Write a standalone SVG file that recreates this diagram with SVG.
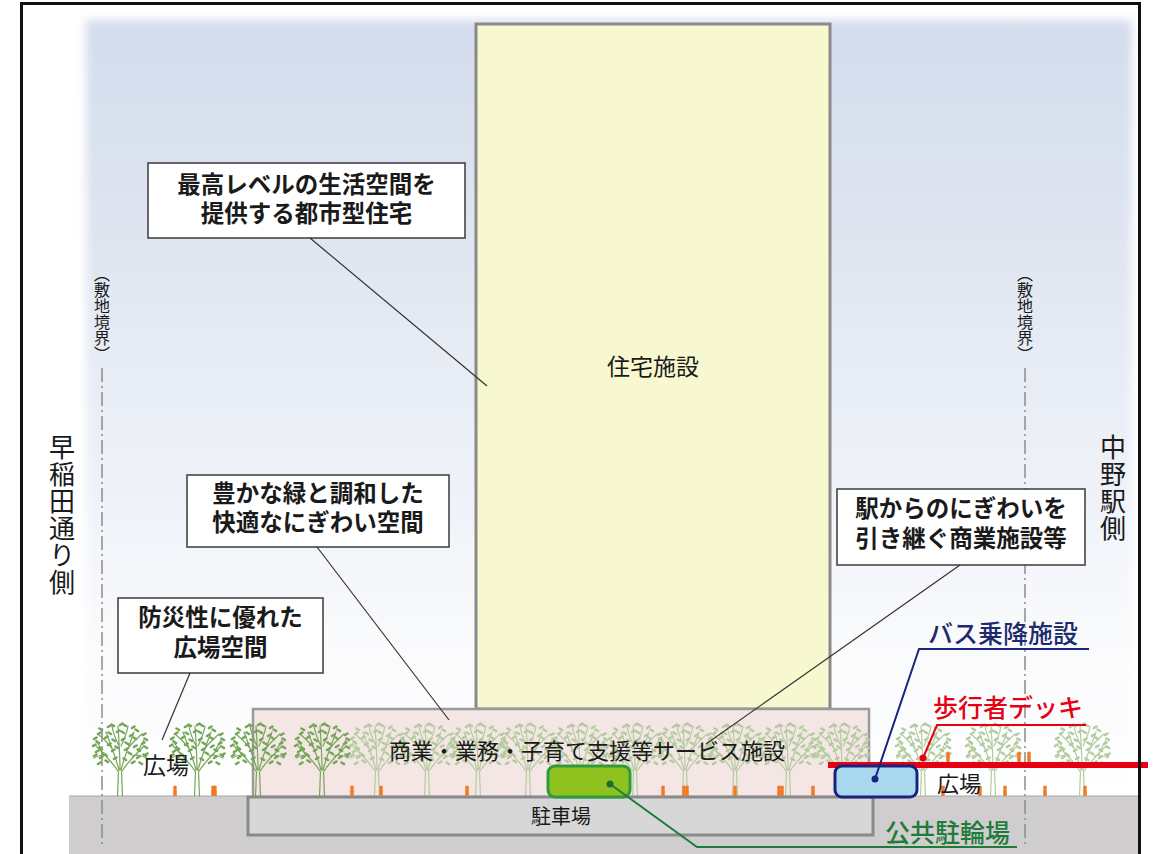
<svg xmlns="http://www.w3.org/2000/svg" xmlns:xlink="http://www.w3.org/1999/xlink" width="1156" height="854" viewBox="0 0 1156 854">
  <style>
    .jp { font-family: "Noto Sans CJK JP", "Noto Sans CJK SC", sans-serif; }
    .callout rect { fill: #ffffff; stroke: #3a3a3a; stroke-width: 1.5; }
    .callout text { font-size: 23.5px; font-weight: 700; text-anchor: middle; fill: #1a1a1a; }
    .leader { fill: none; stroke: #333333; stroke-width: 1.2; }
    .boundary { fill: none; stroke: #8c8c8c; stroke-width: 1.5; stroke-dasharray: 14 4 2 4; }
    .vlabel { writing-mode: vertical-rl; fill: #1a1a1a; }
    .tree-dark { stroke: #74a656; }
    .tree-pale { stroke: #b3cb9e; }
    .person { fill: #f07a28; }
  </style>
  <defs>
    <linearGradient id="skyGrad" x1="0" y1="0" x2="0" y2="1">
      <stop offset="0" stop-color="#d3dcec"/>
      <stop offset="0.3" stop-color="#e0e6f1"/>
      <stop offset="0.55" stop-color="#ecf0f7"/>
      <stop offset="0.78" stop-color="#f9fafc"/>
      <stop offset="1" stop-color="#ffffff"/>
    </linearGradient>
    <filter id="soft" x="-5%" y="-5%" width="110%" height="110%">
      <feGaussianBlur stdDeviation="5"/>
    </filter>
    <!-- tree: base at 0,0 -->
    <g id="tree" fill="none" stroke-linecap="round">
      <path stroke-width="1.2" d="M-2.5,0 C-2,-8 -2,-16 -1.5,-24 M2.5,0 C2,-8 2,-16 1.5,-24
        M-1.5,-24 C-6,-32 -14,-40 -24,-50 M-1,-26 C-4,-38 -9,-50 -14,-64 M0,-26 C0,-40 -1,-55 -2,-70
        M1,-26 C4,-38 9,-50 14,-64 M1.5,-24 C6,-32 14,-40 24,-50
        M-12,-40 C-18,-42 -22,-40 -26,-38 M12,-40 C18,-42 22,-40 26,-38
        M-7,-46 C-12,-54 -18,-58 -22,-62 M7,-46 C12,-54 18,-58 22,-62
        M-1,-50 C-5,-58 -7,-64 -8,-70 M1,-50 C5,-58 7,-64 8,-70
        M-18,-45 L-24,-56 M18,-45 L24,-56"/>
      <path stroke-width="2.6" d="M-26,-57 l2.5,-1.5 M-22,-62 l2.5,-1.5 M-18,-66 l-2.5,-1.5 M-12,-69 l2.5,-1.5 M-6,-70 l-2.5,-1.5 M0,-71 l2.5,-1.5 M6,-70 l-2.5,-1.5 M12,-68 l2.5,-1.5 M18,-65 l-2.5,-1.5 M23,-61 l2.5,-1.5 M27,-56 l-2.5,-1.5
        M-27,-50 l2.5,-1.5 M-21,-53 l-2.5,-1.5 M-15,-58 l2.5,-1.5 M-9,-62 l-2.5,-1.5 M-3,-64 l2.5,-1.5 M4,-63 l-2.5,-1.5 M10,-60 l2.5,-1.5 M16,-57 l-2.5,-1.5 M22,-52 l2.5,-1.5 M27,-48 l-2.5,-1.5
        M-24,-44 l2.5,-1.5 M-18,-47 l-2.5,-1.5 M-12,-51 l2.5,-1.5 M-5,-55 l-2.5,-1.5 M2,-56 l2.5,-1.5 M8,-52 l-2.5,-1.5 M14,-49 l2.5,-1.5 M20,-45 l-2.5,-1.5 M25,-41 l2.5,-1.5
        M-20,-38 l2.5,-1.5 M-14,-41 l-2.5,-1.5 M-8,-45 l2.5,-1.5 M-2,-48 l-2.5,-1.5 M5,-46 l2.5,-1.5 M11,-42 l-2.5,-1.5 M17,-38 l2.5,-1.5
        M-12,-34 l-2.5,-1.5 M-6,-37 l2.5,-1.5 M6,-36 l-2.5,-1.5 M12,-33 l2.5,-1.5 M-22,-32 l2.5,-1.5 M22,-32 l-2.5,-1.5 M-26,-40 l2.5,-1.5 M26,-40 l-2.5,-1.5"/>
    </g>
    <!-- small standing figure: base at 0,0 -->
    <g id="person">
      <circle cx="0" cy="-8.6" r="1.9"/>
      <rect x="-1.8" y="-7" width="3.6" height="7" rx="1"/>
    </g>
  </defs>

  <!-- background sky -->
  <g id="sky">
    <rect x="0" y="0" width="1156" height="854" fill="#ffffff"/>
    <rect x="86" y="20" width="1046" height="790" fill="url(#skyGrad)" filter="url(#soft)"/>
  </g>

  <!-- ground -->
  <g id="ground">
    <rect x="69" y="796" width="1072" height="60" fill="#cfcdce"/>
    <line x1="69" y1="796" x2="1141" y2="796" stroke="#a9a7a8" stroke-width="1"/>
  </g>

  <!-- site boundary lines -->
  <g id="site-boundary-left">
    <line class="boundary" x1="102" y1="368" x2="102" y2="848"/>
    <text class="jp vlabel" x="102" y="266" font-size="16" fill="#333">（敷地境界）</text>
  </g>
  <g id="site-boundary-right">
    <line class="boundary" x1="1025" y1="368" x2="1025" y2="848"/>
    <text class="jp vlabel" x="1025" y="266" font-size="16" fill="#333">（敷地境界）</text>
  </g>

  <!-- side labels -->
  <g id="side-west">
    <text class="jp vlabel" x="62" y="434" font-size="26" letter-spacing="1">早稲田通り側</text>
  </g>
  <g id="side-east">
    <text class="jp vlabel" x="1113" y="434" font-size="26" letter-spacing="1">中野駅側</text>
  </g>

  <!-- residential tower -->
  <g id="tower">
    <rect x="476" y="24" width="354" height="685" fill="#f7f8d0" stroke="#8a8a8a" stroke-width="3"/>
    <text class="jp" x="653" y="375" font-size="23" text-anchor="middle" fill="#1a1a1a">住宅施設</text>
  </g>

  <!-- commercial podium -->
  <g id="podium">
    <rect x="253" y="709" width="616" height="88" fill="#f5e6e6" stroke="#9a9a9a" stroke-width="2.5"/>
  </g>

  <!-- pale trees inside the podium and on the east plaza -->
  <g id="trees-pale" class="tree-pale">
    <use xlink:href="#tree" x="377" y="796"/>
    <use xlink:href="#tree" x="427" y="796"/>
    <use xlink:href="#tree" x="478" y="796"/>
    <use xlink:href="#tree" x="528" y="796"/>
    <use xlink:href="#tree" x="580" y="796"/>
    <use xlink:href="#tree" x="635" y="796"/>
    <use xlink:href="#tree" x="685" y="796"/>
    <use xlink:href="#tree" x="735" y="796"/>
    <use xlink:href="#tree" x="788" y="796"/>
    <use xlink:href="#tree" x="842" y="796"/>
    <use xlink:href="#tree" x="923" y="796"/>
    <use xlink:href="#tree" x="993" y="796"/>
    <use xlink:href="#tree" x="1082" y="796"/>
  </g>

  <!-- parking -->
  <g id="parking">
    <rect x="248" y="797" width="625" height="38" fill="#d7d7d7" stroke="#8a8a8a" stroke-width="3"/>
    <text class="jp" x="561" y="824" font-size="20" text-anchor="middle" fill="#1a1a1a">駐車場</text>
  </g>

  <!-- west plaza trees -->
  <g id="trees-dark" class="tree-dark">
    <use xlink:href="#tree" x="120" y="796"/>
    <use xlink:href="#tree" x="197" y="796"/>
    <use xlink:href="#tree" x="258" y="796"/>
    <use xlink:href="#tree" x="322" y="796"/>
  </g>

  <!-- people -->
  <g id="people" class="person">
    <use xlink:href="#person" x="175" y="796"/>
    <use xlink:href="#person" x="213" y="796"/>
    <use xlink:href="#person" x="215" y="796"/>
    <use xlink:href="#person" x="352" y="796"/>
    <use xlink:href="#person" x="381" y="796"/>
    <use xlink:href="#person" x="467" y="796"/>
    <use xlink:href="#person" x="663" y="796"/>
    <use xlink:href="#person" x="684" y="796"/>
    <use xlink:href="#person" x="687" y="796"/>
    <use xlink:href="#person" x="735" y="796"/>
    <use xlink:href="#person" x="779" y="796"/>
    <use xlink:href="#person" x="782" y="796"/>
    <use xlink:href="#person" x="813" y="796"/>
    <use xlink:href="#person" x="943" y="796"/>
    <use xlink:href="#person" x="980" y="796"/>
    <use xlink:href="#person" x="1005" y="796"/>
    <use xlink:href="#person" x="1045" y="796"/>
    <use xlink:href="#person" x="1085" y="796"/>
    <use xlink:href="#person" x="948" y="762"/>
    <use xlink:href="#person" x="1019" y="762"/>
    <use xlink:href="#person" x="1029" y="762"/>
  </g>

  <!-- podium and plaza labels -->
  <g id="podium-label">
    <text class="jp" x="587" y="759" font-size="22" text-anchor="middle" fill="#1a1a1a">商業・業務・子育て支援等サービス施設</text>
  </g>
  <g id="plaza-west">
    <text class="jp" x="166" y="774" font-size="23" text-anchor="middle" fill="#1a1a1a">広場</text>
  </g>
  <g id="plaza-east">
    <text class="jp" x="959" y="792" font-size="22" text-anchor="middle" fill="#1a1a1a">広場</text>
  </g>

  <!-- public bicycle parking -->
  <g id="bike-parking">
    <rect x="548" y="766" width="82" height="31" rx="7" fill="#8fc21f" stroke="#2e9a3c" stroke-width="3"/>
    <text class="jp" x="885" y="842" font-size="25" font-weight="500" fill="#1e7b3a">公共駐輪場</text>
  </g>

  <!-- pedestrian deck -->
  <g id="deck">
    <line x1="828" y1="765" x2="1148" y2="765" stroke="#e60012" stroke-width="6"/>
    <text class="jp" x="933" y="717" font-size="25" font-weight="500" fill="#e60012">歩行者デッキ</text>
  </g>

  <!-- bus stop -->
  <g id="bus-stop">
    <rect x="835" y="766" width="82" height="31" rx="7" fill="#a8d8ee" stroke="#1a237e" stroke-width="3"/>
    <text class="jp" x="928" y="643" font-size="25" font-weight="500" fill="#1d2a6e">バス乗降施設</text>
  </g>

  <!-- callouts -->
  <g id="callout-housing" class="callout jp">
    <rect x="148" y="163" width="317" height="75"/>
    <text x="306.5" y="193">最高レベルの生活空間を<tspan x="306.5" dy="29">提供する都市型住宅</tspan></text>
  </g>
  <g id="callout-green" class="callout jp">
    <rect x="187" y="475" width="262" height="72"/>
    <text x="318" y="502">豊かな緑と調和した<tspan x="318" dy="29">快適なにぎわい空間</tspan></text>
  </g>
  <g id="callout-commercial" class="callout jp">
    <rect x="837" y="489" width="248" height="76"/>
    <text x="961" y="517">駅からのにぎわいを<tspan x="961" dy="30">引き継ぐ商業施設等</tspan></text>
  </g>
  <g id="callout-plaza" class="callout jp">
    <rect x="118" y="598" width="205" height="75"/>
    <text x="220.5" y="626">防災性に優れた<tspan x="220.5" dy="30">広場空間</tspan></text>
  </g>

  <!-- connectors -->
  <g id="connectors">
    <line class="leader" x1="310" y1="238" x2="487" y2="386"/>
    <line class="leader" x1="317" y1="547" x2="449" y2="720"/>
    <line class="leader" x1="960" y1="565" x2="706" y2="744"/>
    <line class="leader" x1="190" y1="673" x2="162" y2="740"/>
    <polyline points="610,784 697,847 1017,847" fill="none" stroke="#1e7b3a" stroke-width="2"/>
    <circle cx="610" cy="784" r="3.5" fill="#1e6b35"/>
    <polyline points="875,779 919,649 1089,649" fill="none" stroke="#1a237e" stroke-width="2"/>
    <circle cx="875" cy="779" r="3.5" fill="#1a237e"/>
    <polyline points="923,758 937,725 1086,725" fill="none" stroke="#e60012" stroke-width="2"/>
    <circle cx="923" cy="758" r="3.5" fill="#e60012"/>
  </g>

  <!-- frame -->
  <g id="frame">
    <path d="M21.5,856 V3.5 H1139.5 V856" fill="none" stroke="#111111" stroke-width="3"/>
  </g>
</svg>
